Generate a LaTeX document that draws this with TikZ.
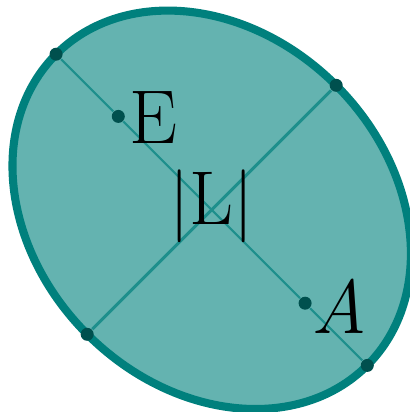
\documentclass[tikz,border=0pt]{standalone}
\usepackage{amsmath,amssymb}
\usepackage{tikz}

\definecolor{shellfill}{HTML}{64B3B0}
\definecolor{shellline}{HTML}{00807D}
\definecolor{axisline}{HTML}{1E8F8C}
\definecolor{dotfill}{HTML}{00504E}

\begin{document}
\begin{tikzpicture}[
  dot/.style={draw=none, circle, fill=dotfill, minimum size=1.3mm, inner sep=0pt},
  letter/.style={inner sep=0pt, font=\fontsize{21.7}{22}\selectfont}
]
  \useasboundingbox (-2.117,-2.022) rectangle (1.973,2.098);

  \draw[line width=2.3pt, draw=shellline, fill=shellfill, rotate=-45] (0,0) ellipse [x radius=2.2, y radius=1.76];

  \node[dot] (P1) at (-1.556,1.556) {};
  \node[dot] (P2) at (1.556,-1.556) {};
  \node[dot] (Q1) at (1.245,1.245) {};
  \node[dot] (Q2) at (-1.245,-1.245) {};
  \node[dot] (F1) at (-0.934,0.934) {};
  \node[dot] (F2) at (0.934,-0.934) {};

  \draw[line width=0.6pt, axisline] (P1) -- (F1) -- (F2) -- (P2);
  \draw[line width=0.9pt, axisline] (Q1) -- (Q2);

  \node[letter] (E) at (-0.587,0.918) {E};
  \node[letter] (L) at (-0.002,0.035) {$|$L$|$};
  \node[letter] (A) at (1.278,-0.962) {\itshape A};
\end{tikzpicture}
\end{document}
